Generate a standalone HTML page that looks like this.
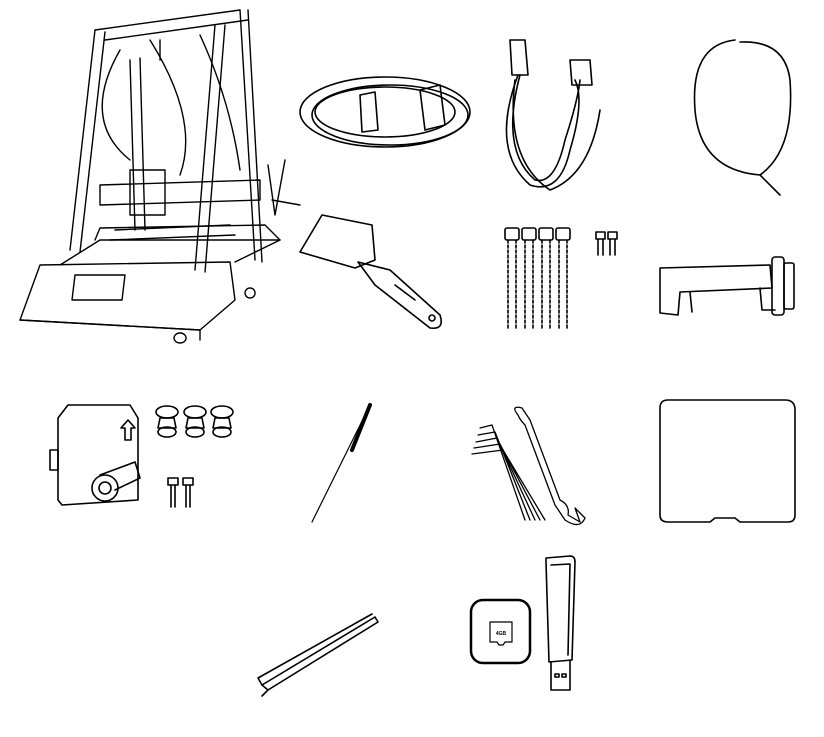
<!DOCTYPE html>
<html><head><style>html,body{margin:0;padding:0;background:#fff}svg{display:block}</style></head>
<body>
<svg width="824" height="737" viewBox="0 0 824 737" xmlns="http://www.w3.org/2000/svg" fill="none" stroke="#000" stroke-width="1.6" stroke-linejoin="round" stroke-linecap="round">
<!-- Printer -->
<g stroke-width="1.4">
<path d="M40 265 L20 320 L200 330 L235 300 L230 262 Z"/>
<path d="M20 320 L200 330 L200 340"/>
<path d="M75 275 L125 275 L122 300 L72 300 Z"/>
<path d="M60 265 L100 240 L280 240 L235 262"/>
<path d="M95 240 L100 228 L265 225 L280 240"/>
<path d="M180 333 a6 5 0 1 0 0.1 0"/><path d="M250 288 a5 5 0 1 0 0.1 0"/>
<path d="M95 30 L70 250 M105 32 L80 252"/>
<path d="M215 25 L195 270 M225 25 L205 272"/>
<path d="M240 10 L255 260 M248 10 L262 262"/>
<path d="M95 30 L240 10 M105 40 L248 20"/>
<path d="M130 60 L135 230 M140 58 L145 230 M160 40 L160 60"/>
<path d="M100 185 L260 180 L260 200 L100 205 Z"/>
<path d="M130 170 L165 170 L165 215 L130 215 Z"/>
<path d="M120 50 Q80 120 130 160 M150 40 Q200 120 180 175 M200 35 Q230 100 240 170"/>
<path d="M115 230 L230 225 M110 240 L235 235"/>
<path d="M268 165 L275 215 L285 160 M272 200 L300 205"/>
</g>
<!-- power cable coil -->
<g>
<ellipse cx="385" cy="112" rx="85" ry="35"/>
<ellipse cx="385" cy="112" rx="70" ry="25"/>
<ellipse cx="390" cy="115" rx="78" ry="30"/>
<path d="M420 90 L440 85 L445 125 L425 130 Z"/>
<path d="M360 95 L375 92 L378 130 L362 132 Z"/>
</g>
<!-- USB cable -->
<g>
<path d="M510 40 L525 40 L528 75 L512 75 Z"/>
<path d="M518 75 Q490 150 530 185 Q560 195 570 150 Q585 100 575 80"/>
<path d="M520 75 Q500 150 535 180 Q555 185 565 140 Q578 100 580 80"/>
<path d="M570 60 L590 60 L592 85 L572 85 Z"/>
<path d="M515 80 Q505 160 550 190 Q590 175 600 110"/>
</g>
<!-- filament tube -->
<path d="M735 40 Q690 45 695 110 Q700 170 760 175 Q795 150 790 80 Q785 40 740 42 M760 175 L780 195"/>
<!-- spatula -->
<g>
<path d="M322 215 L372 225 L375 260 L355 268 L300 252 Z"/>
<path d="M358 262 L390 270 L440 315 Q445 330 430 328 L375 285 Z"/>
<path d="M395 285 L415 300"/>
<circle cx="432" cy="318" r="3"/>
</g>
<!-- screws -->
<g>
<rect x="505" y="228" width="14" height="12" rx="2"/><rect x="522" y="228" width="14" height="12" rx="2"/>
<rect x="539" y="228" width="14" height="12" rx="2"/><rect x="556" y="228" width="14" height="12" rx="2"/>
<path d="M508 240 L508 328 M516 240 L516 328 M525 240 L525 328 M533 240 L533 328 M542 240 L542 328 M550 240 L550 328 M559 240 L559 328 M567 240 L567 328" stroke-dasharray="3 2"/>
<rect x="596" y="232" width="9" height="7"/><rect x="608" y="232" width="9" height="7"/>
<path d="M598 239 L598 255 M603 239 L603 255 M610 239 L610 255 M615 239 L615 255"/>
</g>
<!-- spool holder -->
<g>
<path d="M660 268 L770 265 L772 288 L680 292 L678 315 L660 313 Z"/>
<path d="M690 292 L692 312 M760 288 L762 310 L775 310"/>
<rect x="772" y="257" width="12" height="58" rx="3"/>
<rect x="784" y="263" width="10" height="46" rx="2"/>
</g>
<!-- extruder -->
<g>
<path d="M58 418 L68 405 L130 405 L138 418 L138 500 L62 505 L58 500 Z"/>
<path d="M50 450 L58 450 L58 470 L50 470 Z"/>
<circle cx="105" cy="488" r="13"/><circle cx="105" cy="488" r="6"/>
<path d="M100 475 L135 462 L140 478 L115 490"/>
<path d="M125 440 L131 440 L131 428 L135 428 L128 420 L121 428 L125 428 Z"/>
<g><ellipse cx="167" cy="412" rx="11" ry="6"/><path d="M160 418 L174 418 L176 428 L158 428 Z"/><ellipse cx="167" cy="432" rx="9" ry="5"/></g>
<g><ellipse cx="195" cy="412" rx="11" ry="6"/><path d="M188 418 L202 418 L204 428 L186 428 Z"/><ellipse cx="195" cy="432" rx="9" ry="5"/></g>
<g><ellipse cx="222" cy="412" rx="11" ry="6"/><path d="M215 418 L229 418 L231 428 L213 428 Z"/><ellipse cx="222" cy="432" rx="9" ry="5"/></g>
<rect x="168" y="478" width="10" height="7"/><rect x="183" y="478" width="10" height="7"/>
<path d="M171 485 L171 507 M175 485 L175 507 M186 485 L186 507 M190 485 L190 507"/>
</g>
<!-- needle -->
<path d="M370 405 L312 522" stroke-width="1.2"/>
<path d="M370 405 L352 450" stroke-width="4" stroke-dasharray="1.5 1"/>
<!-- wrenches -->
<g stroke-width="1.3">
<path d="M480 428 L492 425 L525 520 M478 435 L495 432 L530 520 M476 442 L497 438 L535 520 M474 448 L500 444 L540 520 M472 454 L503 450 L545 520"/>
<path d="M518 415 Q510 405 522 408 L530 420 L560 500 Q570 505 568 515 L580 522 L575 508 L585 518 Q580 530 565 520 L555 505 L525 425 Q520 420 518 415 Z"/>
</g>
<!-- plate -->
<path d="M660 408 Q660 400 668 400 L785 400 Q795 400 795 410 L795 515 Q795 522 788 522 L740 522 L735 518 L715 518 L710 522 L668 522 Q660 522 660 515 Z"/>
<!-- tweezers -->
<g>
<path d="M375 617 L262 685 L268 690 L378 622 Z"/>
<path d="M372 614 L258 678 L262 685"/>
<path d="M268 690 L262 696"/>
</g>
<!-- SD card -->
<g>
<rect x="471" y="600" width="59" height="63" rx="12" stroke-width="2.5"/>
<path d="M490 622 L512 622 L512 642 L505 642 L503 645 L499 645 L497 642 L490 642 Z" stroke-width="1.2"/>
<text x="501" y="635" font-family="Liberation Sans, sans-serif" font-size="5" fill="#000" stroke="none" text-anchor="middle" font-weight="bold">4GB</text>
<path d="M546 558 L570 556 Q575 556 575 562 L572 660 L549 662 L546 562 Z"/>
<path d="M551 565 L570 564 L568 655"/>
<path d="M551 662 L551 690 L570 690 L570 660"/>
<rect x="555" y="674" width="4" height="3"/><rect x="562" y="674" width="4" height="3"/>
</g>
</svg>
</body></html>
